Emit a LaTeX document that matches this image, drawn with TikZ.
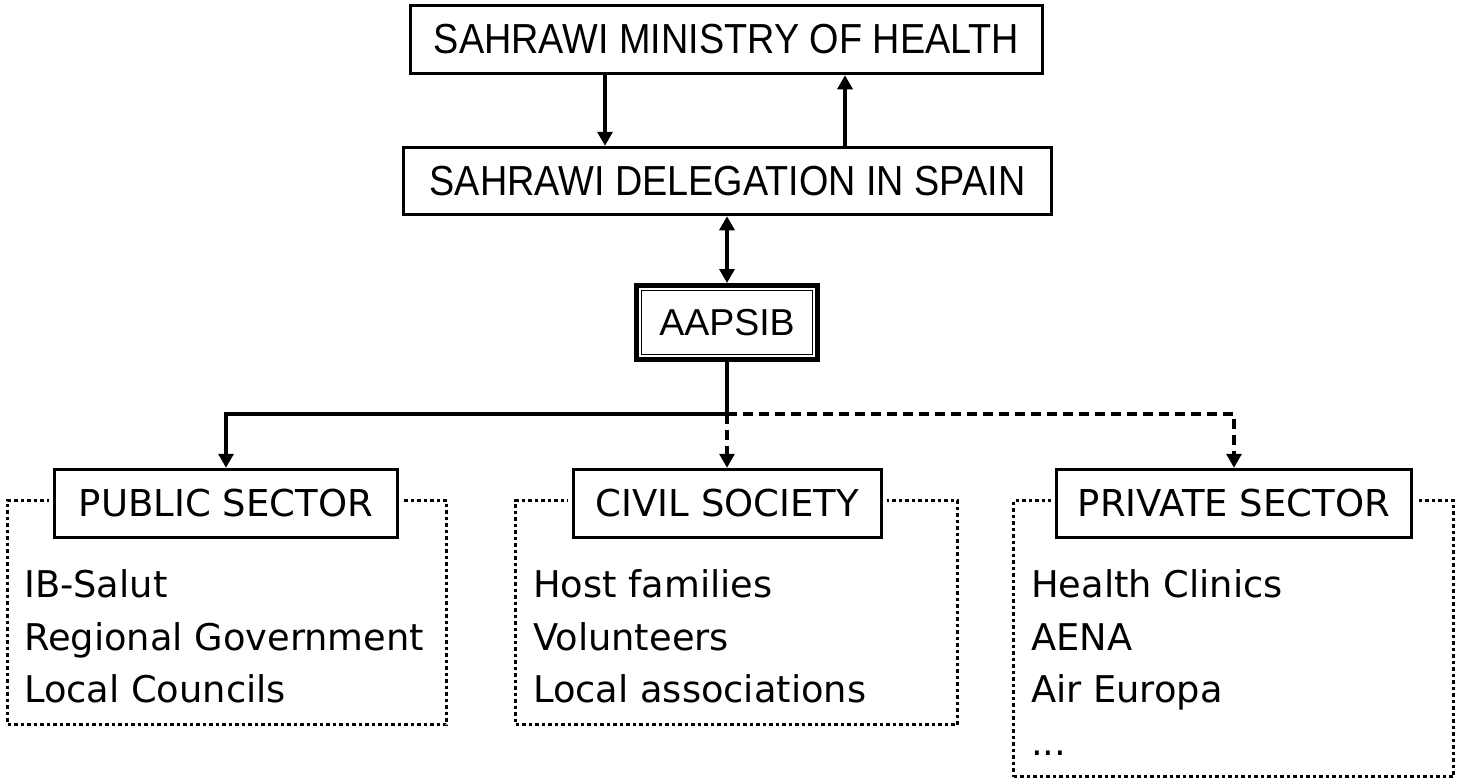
\documentclass[tikz,border=0pt]{standalone}
\usepackage{fontspec}
\setmainfont{DejaVu Sans}
\newfontfamily\topfont[FakeStretch=0.9]{Liberation Sans}
\newfontfamily\arialfont{Liberation Sans}
\usetikzlibrary{arrows.meta,calc}
\tikzset{
  topbox/.style={draw, line width=3.5pt, fill=white, inner sep=0pt,
     font=\topfont\fontsize{42}{48}\selectfont},
  aapbox/.style={draw, line width=5pt, fill=white, inner sep=0pt,
     font=\arialfont\fontsize{37.5}{42}\selectfont},
  headbox/.style={draw, line width=3.5pt, fill=white, inner sep=0pt,
     minimum height=68pt, preaction={draw=white, line width=11pt},
     font=\fontsize{37}{44}\selectfont},
  dotbox/.style={draw, line width=3.5pt, dash pattern=on 3.5pt off 3pt, inner sep=0pt},
  item/.style={anchor=base west, inner sep=0pt, font=\fontsize{36.8}{44}\selectfont},
  arr/.style={line width=3.2pt, -{Triangle[length=14pt,width=15pt]}},
  darr/.style={line width=3.2pt, {Triangle[length=14pt,width=15pt]}-{Triangle[length=14pt,width=15pt]}},
  dsh/.style={dash pattern=on 10pt off 6pt},
}
\begin{document}
\begin{tikzpicture}[x=1pt,y=-1pt]
\useasboundingbox (0,0) rectangle (1458,782);

% dotted group boxes
\node[dotbox, minimum width=439pt, minimum height=224pt] (pubgrp) at (227,612.5) {};
\node[dotbox, minimum width=442pt, minimum height=224pt] (civgrp) at (736.5,612.5) {};
\node[dotbox, minimum width=440pt, minimum height=276pt] (prvgrp) at (1233.5,638.5) {};

% top boxes
\node[topbox, minimum width=632pt, minimum height=68pt] (ministry) at (726.5,39.5) {SAHRAWI MINISTRY OF HEALTH};
\node[topbox, minimum width=648pt, minimum height=67pt] (deleg) at (727.5,181) {SAHRAWI DELEGATION IN SPAIN};
\node[aapbox, minimum width=181pt, minimum height=74pt] (aapsib) at (727,322.5) {AAPSIB};
\draw[line width=1.3pt] ($(aapsib.north west)+(7.5,7.5)$) rectangle ($(aapsib.south east)+(-7.5,-7.5)$);

% sector headers
\node[headbox, minimum width=343pt] (public) at (226,503.5) {PUBLIC SECTOR};
\node[headbox, minimum width=308pt] (civil) at (727.5,503.5) {CIVIL SOCIETY};
\node[headbox, minimum width=355pt] (private) at (1234,503.5) {PRIVATE SECTOR};

% items
\node[item] (p1) at (24,597) {IB-Salut};
\node[item] (p2) at (24,650) {Regional Government};
\node[item] (p3) at (24,702) {Local Councils};
\node[item] (c1) at (533,597) {Host families};
\node[item] (c2) at (533,650) {Volunteers};
\node[item] (c3) at (533,702) {Local associations};
\node[item] (r1) at (1031,597) {Health Clinics};
\node[item] (r2) at (1031,650) {AENA};
\node[item] (r3) at (1031,702) {Air Europa};
\node[item] (r4) at (1031,755) {...};

% connectors
\coordinate (xL) at (605,0);
\coordinate (xR) at (845,0);
\coordinate (split) at (727,414);
\draw[arr] (ministry.south -| xL) -- (deleg.north -| xL);
\draw[arr] (deleg.north -| xR) -- (ministry.south -| xR);
\draw[darr] (deleg.south -| aapsib.north) -- (aapsib.north);
\draw[line width=3.2pt] (aapsib.south) -- (split);
\draw[arr] (split) -| (public.north);
\draw[arr, dsh] (split) -- (split |- civil.north);
\draw[arr, dsh] (split) -| (private.north);
\end{tikzpicture}
\end{document}
